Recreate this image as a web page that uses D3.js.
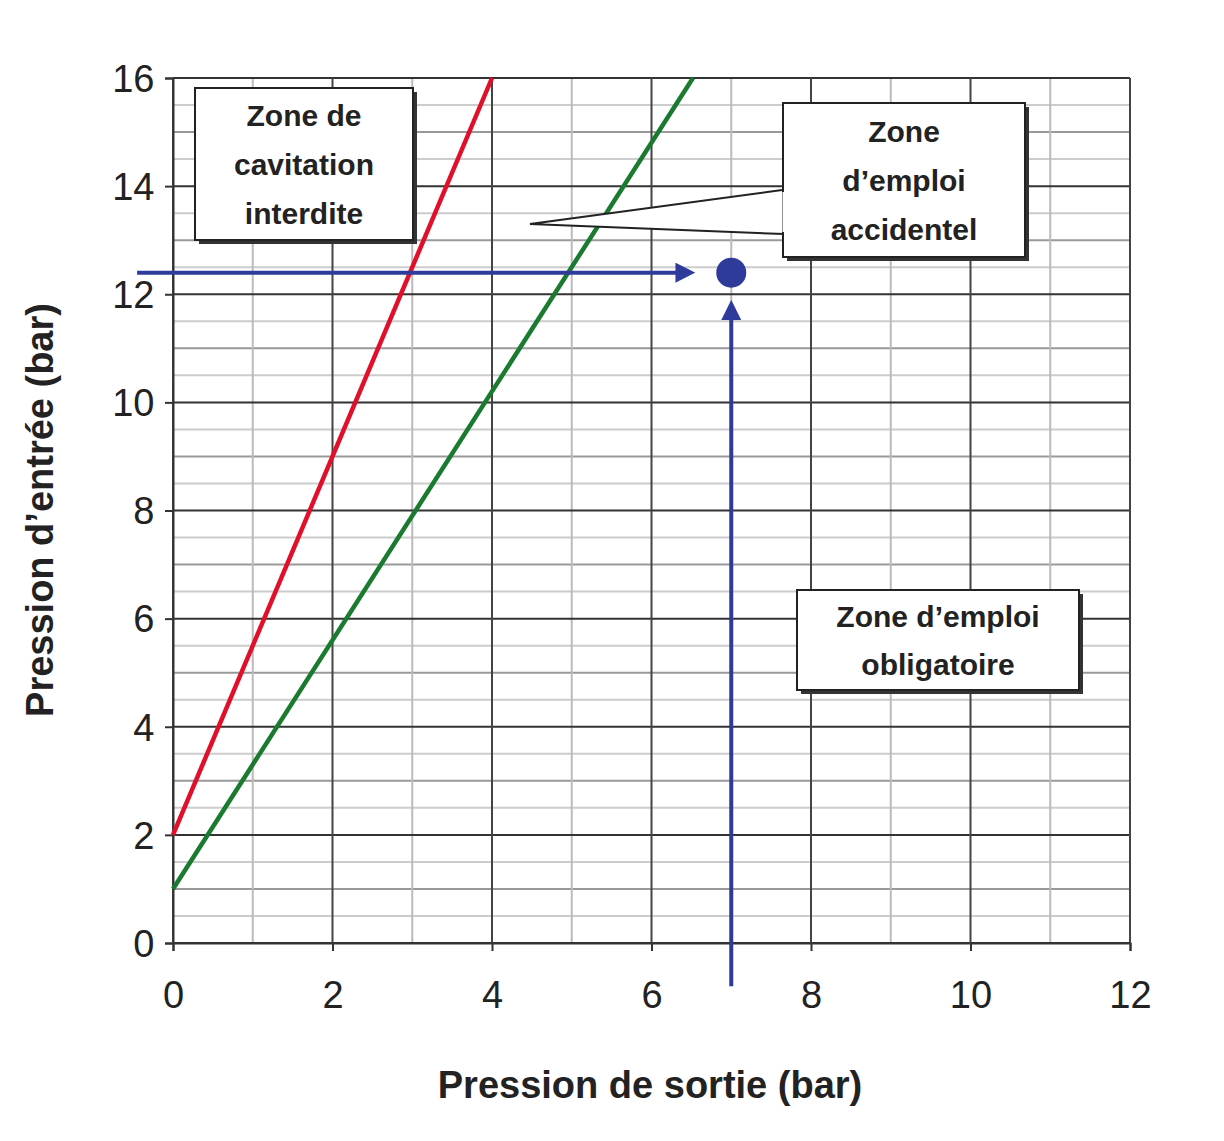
<!DOCTYPE html>
<html><head><meta charset="utf-8">
<script src="https://cdn.jsdelivr.net/npm/d3@7"></script>
<style>body{margin:0;background:#fff}</style></head>
<body><svg id="c" width="1224" height="1141"></svg>
<script>
const xTicks=[0,2,4,6,8,10,12];
const yTicks=[0,2,4,6,8,10,12,14,16];
const redLine=[[0,2],[4,16]];
const greenLine=[[0,1],[6.52,16]];
const point=[7,12.4];
const hArrow=[[-0.45,12.4],[6.35,12.4]];
const vArrow=[[7,-0.8],[7,11.6]];

const svg=d3.select("#c");
const x=d3.scaleLinear().domain([0,12]).range([173,1130]);
const y=d3.scaleLinear().domain([0,16]).range([943,78]);
const g=svg.append("g");
d3.range(0.5,16,0.5).filter(v=>v%2!==0).forEach(v=>{
 g.append("line").attr("x1",x(0)).attr("x2",x(12)).attr("y1",y(v)).attr("y2",y(v)).attr("stroke",v%1===0?"#999":"#ccc").attr("stroke-width",2);
});
d3.range(1,12,2).forEach(v=>{
 g.append("line").attr("x1",x(v)).attr("x2",x(v)).attr("y1",y(0)).attr("y2",y(16)).attr("stroke","#bbb").attr("stroke-width",2);
});
yTicks.forEach(v=>g.append("line").attr("x1",x(0)).attr("x2",x(12)).attr("y1",y(v)).attr("y2",y(v)).attr("stroke","#333").attr("stroke-width",2));
xTicks.forEach(v=>g.append("line").attr("x1",x(v)).attr("x2",x(v)).attr("y1",y(0)).attr("y2",y(16)).attr("stroke","#444").attr("stroke-width",2));
const fx=d3.axisBottom(x).tickValues(xTicks).tickSize(8);
const fy=d3.axisLeft(y).tickValues(yTicks).tickSize(8);
const ax=svg.append("g").attr("transform",`translate(0,${y(0)})`).call(fx);
const ay=svg.append("g").attr("transform",`translate(${x(0)},0)`).call(fy);
[ax,ay].forEach(a=>{a.select(".domain").attr("stroke","#333").attr("stroke-width",2);
 a.selectAll(".tick line").attr("stroke","#333").attr("stroke-width",2);
 a.selectAll("text").attr("font-family","Liberation Sans, Arial").attr("font-size",38).attr("fill","#222");});
ax.selectAll("text").attr("y",38).attr("dy","0.71em");
ay.selectAll("text").attr("dx","-0.2em").attr("dy","0.35em");
svg.append("text").attr("x",650).attr("y",1098).attr("text-anchor","middle").attr("font-family","Liberation Sans, Arial").attr("font-weight","bold").attr("font-size",38).attr("fill","#222").text("Pression de sortie (bar)");
svg.append("text").attr("transform","translate(53,510) rotate(-90)").attr("text-anchor","middle").attr("font-family","Liberation Sans, Arial").attr("font-weight","bold").attr("font-size",38).attr("fill","#222").text("Pression d’entrée (bar)");
const line=d3.line().x(d=>x(d[0])).y(d=>y(d[1]));
svg.append("path").attr("d",line(redLine)).attr("stroke","#e0102a").attr("stroke-width",4.5).attr("fill","none");
svg.append("path").attr("d",line(greenLine)).attr("stroke","#1a7a30").attr("stroke-width",4.5).attr("fill","none");
const defs=svg.append("defs");
defs.append("marker").attr("id","ah").attr("viewBox","0 0 10 10").attr("refX",2).attr("refY",5).attr("markerWidth",5).attr("markerHeight",5).attr("orient","auto").attr("markerUnits","strokeWidth")
 .append("path").attr("d","M0,0L10,5L0,10Z").attr("fill","#2e3b9a");
[hArrow,vArrow].forEach(a=>svg.append("path").attr("d",line(a)).attr("stroke","#2e3b9a").attr("stroke-width",4).attr("fill","none").attr("marker-end","url(#ah)"));
svg.append("circle").attr("cx",x(point[0])).attr("cy",y(point[1])).attr("r",15).attr("fill","#2e3b9a");
function box(x0,y0,w,h,lines,fs,lh){
 svg.append("rect").attr("x",x0+4).attr("y",y0+4).attr("width",w).attr("height",h).attr("fill","#333");
 svg.append("rect").attr("x",x0).attr("y",y0).attr("width",w).attr("height",h).attr("fill","#fff").attr("stroke","#222").attr("stroke-width",2);
 lines.forEach((t,i)=>svg.append("text").attr("x",x0+w/2).attr("y",y0+h/2+(i-(lines.length-1)/2)*lh+fs*0.35).attr("text-anchor","middle").attr("font-family","Liberation Sans, Arial").attr("font-weight","bold").attr("font-size",fs).attr("fill","#222").text(t));
}
box(195,88,218,152,["Zone de","cavitation","interdite"],30,49);
svg.append("path").attr("d","M782,190 L530,224 L784,234").attr("fill","#fff").attr("stroke","#222").attr("stroke-width",2);
box(783,103,242,154,["Zone","d’emploi","accidentel"],30,49);
svg.append("path").attr("d","M784,192 L784,232").attr("stroke","#fff").attr("stroke-width",3);
box(797,590,282,100,["Zone d’emploi","obligatoire"],30,48);
</script></body></html>
